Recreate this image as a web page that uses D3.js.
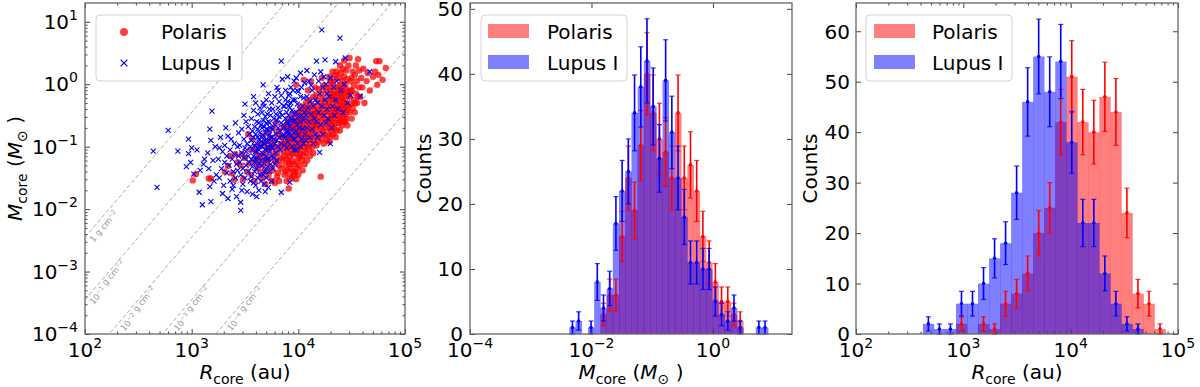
<!DOCTYPE html>
<html>
<head>
<meta charset="utf-8">
<script src="https://cdn.jsdelivr.net/npm/d3@7"></script>
<style>
body{margin:0;background:#fff;}
text{font-family:"DejaVu Sans",sans-serif;fill:#000;}
</style>
</head>
<body>
<script>
// cores: [log10 R/au, log10 M/Msun]
var polarisCores=[
[3.01,-1.54],[3.04,-1.44],[3.16,-1.51],[3.18,-1.51],[3.31,-1.40],
[3.36,-1.15],[3.41,-1.12],[3.34,-1.31],[3.38,-1.43],[3.43,-1.25],[3.40,-1.53],
[3.53,-0.80],[3.48,-1.52],[3.46,-1.30],[3.50,-1.18],[3.52,-1.40],[3.55,-1.05],[3.47,-1.12],[3.54,-1.27],
[3.56,-1.45],[3.58,-1.22],[3.60,-1.08],[3.62,-1.35],[3.64,-0.95],[3.59,-1.55],[3.61,-1.28],[3.63,-1.15],[3.57,-0.88],[3.65,-1.42],[3.60,-1.00],[3.62,-1.20],
[3.66,-1.50],[3.67,-1.30],[3.68,-1.10],[3.69,-0.92],[3.70,-1.40],[3.71,-1.22],[3.72,-0.78],[3.73,-1.05],[3.74,-1.33],[3.75,-1.55],
[3.66,-1.18],[3.68,-0.98],[3.70,-1.26],[3.72,-1.46],[3.74,-0.88],[3.69,-1.60],[3.71,-1.02],[3.73,-1.18],[3.75,-0.95],[3.67,-0.82],
[3.76,-1.38],[3.77,-1.12],[3.78,-0.90],[3.79,-1.25],[3.80,-1.48],[3.81,-1.02],[3.82,-0.75],[3.83,-1.18],[3.84,-1.35],[3.85,-0.95],
[3.76,-0.70],[3.78,-1.58],[3.80,-1.10],[3.82,-1.30],[3.84,-0.85],[3.86,-1.08],[3.77,-1.00],[3.79,-0.62],[3.81,-1.42],[3.83,-0.98],
[3.85,-1.22],[3.78,-1.20],[3.80,-0.80],[3.82,-1.55],[3.86,-0.68],
[3.87,-1.45],[3.87,-1.15],[3.87,-0.88],[3.88,-1.30],[3.88,-1.02],[3.88,-0.72],[3.89,-1.55],[3.89,-1.20],[3.89,-0.95],[3.90,-1.38],
[3.90,-1.10],[3.90,-0.80],[3.90,-0.55],[3.91,-1.67],[3.91,-1.25],[3.91,-1.00],[3.91,-0.70],[3.92,-1.48],[3.92,-1.15],[3.92,-0.90],
[3.93,-1.35],[3.93,-1.05],[3.93,-0.62],[3.94,-1.22],[3.94,-0.95],[3.94,-0.78],[3.95,-1.40],[3.95,-1.12],[3.95,-0.85],[3.95,-0.48],
[3.96,-1.28],[3.96,-1.02],[3.96,-0.68],[3.88,-1.40],[3.90,-0.98],[3.92,-1.28],[3.93,-0.85],[3.94,-1.50],[3.89,-0.65],[3.91,-0.85],
[3.95,-1.00],[3.96,-1.45],
[3.97,-1.40],[3.97,-1.10],[3.97,-0.82],[3.97,-0.55],[3.98,-1.25],[3.98,-0.95],[3.98,-0.70],[3.98,-0.01],[3.99,-1.35],[3.99,-1.05],
[3.99,-0.78],[3.99,-0.45],[4.00,-1.18],[4.00,-0.90],[4.00,-0.62],[4.00,-1.45],[4.01,-1.00],[4.01,-0.75],[4.01,-0.50],[4.01,-1.30],
[4.02,-1.12],[4.02,-0.85],[4.02,-0.58],[4.02,-0.35],[4.03,-1.22],[4.03,-0.95],[4.03,-0.68],[4.03,-0.42],[4.04,-1.08],[4.04,-0.80],
[4.04,-0.52],[4.04,-1.38],[4.05,0.07],[4.05,-0.90],[4.05,-0.65],[4.05,-1.15],[4.06,-1.00],[4.06,-0.72],[4.06,-0.45],[4.06,-1.28],
[3.98,-1.52],[3.99,-0.60],[4.00,-0.80],[4.01,-1.15],[4.02,-0.70],[4.03,-0.55],[4.04,-0.95],[4.05,-0.38],[4.06,-0.85],[3.97,-0.68],[4.00,-1.02],
[4.07,-1.10],[4.07,-0.82],[4.07,-0.55],[4.07,-0.30],[4.08,-1.00],[4.08,-0.72],[4.08,-0.45],[4.08,-1.22],[4.09,-0.90],[4.09,-0.62],
[4.09,-0.38],[4.09,-0.10],[4.10,-1.05],[4.10,-0.78],[4.10,-0.50],[4.10,-0.25],[4.11,-0.95],[4.11,-0.68],[4.11,-0.42],[4.11,-1.15],
[4.12,-0.85],[4.12,-0.58],[4.12,-0.32],[4.12,0.05],[4.13,-1.00],[4.13,-0.72],[4.13,-0.48],[4.14,-0.51],[4.14,-0.88],[4.14,-0.62],
[4.14,-0.20],[4.14,-1.10],[4.15,-0.78],[4.15,-0.52],[4.15,-0.35],[4.16,-0.95],[4.16,-0.66],[4.16,-0.42],[4.16,-0.05],[4.08,-0.60],
[4.12,-0.75],[4.15,-0.60],
[4.17,-0.98],[4.17,-0.70],[4.17,-0.45],[4.17,-0.18],[4.18,-0.85],[4.18,-0.58],[4.18,-0.25],[4.19,-0.92],[4.19,-0.66],[4.19,-0.40],
[4.19,-0.08],[4.20,-0.80],[4.20,-0.52],[4.20,-0.30],[4.21,-1.48],[4.21,-0.72],[4.21,-0.46],[4.21,-0.15],[4.22,-0.88],[4.22,-0.60],
[4.22,-0.35],[4.22,0.10],[4.23,-0.75],[4.23,-0.50],[4.23,-0.22],[4.24,-0.95],[4.24,-0.64],[4.24,-0.40],[4.24,-0.02],[4.25,-0.82],
[4.25,-0.55],[4.25,-0.28],[4.26,-0.70],[4.26,-0.45],[4.26,-0.12],[4.27,-0.90],[4.27,-0.60],[4.27,-0.35],[4.18,-0.45],[4.23,-0.05],
[4.28,-0.80],[4.28,-0.55],[4.28,-0.30],[4.28,-0.05],[4.29,-0.70],[4.29,-0.45],[4.29,-0.20],[4.29,0.12],[4.30,-0.85],[4.30,-0.60],
[4.30,-0.36],[4.30,-0.10],[4.31,-0.75],[4.31,-0.50],[4.31,-0.25],[4.31,0.02],[4.32,-0.66],[4.32,-0.40],[4.32,-0.15],[4.32,0.20],
[4.33,-0.80],[4.33,-0.55],[4.33,-0.30],[4.33,-0.02],[4.34,-0.70],[4.34,-0.45],[4.34,-0.18],[4.35,-0.62],[4.35,-0.38],[4.35,-0.10],
[4.35,0.15],[4.36,-0.74],[4.36,-0.50],[4.36,-0.26],[4.36,0.20],[4.37,-0.58],[4.37,-0.34],[4.37,-0.05],[4.29,-0.92],[4.31,-0.60],
[4.33,-0.22],[4.35,-0.85],[4.37,-0.15],[4.30,0.05],[4.34,0.08],[4.32,-0.50],[4.36,-0.42],
[4.38,-0.62],[4.38,-0.40],[4.38,-0.15],[4.38,0.10],[4.39,-0.74],[4.39,-0.50],[4.39,-0.28],[4.39,-0.02],[4.40,-0.58],[4.40,-0.35],
[4.40,-0.10],[4.40,0.18],[4.41,-0.66],[4.41,-0.45],[4.41,-0.22],[4.41,0.05],[4.42,-0.52],[4.42,-0.30],[4.42,-0.05],[4.42,0.25],
[4.43,-0.60],[4.43,-0.38],[4.43,-0.15],[4.43,0.12],[4.44,-0.48],[4.44,-0.25],[4.44,0.00],[4.45,-0.55],[4.45,-0.32],[4.45,-0.08],
[4.45,0.22],[4.46,-0.66],[4.46,-0.42],[4.46,-0.18],[4.46,0.08],[4.47,-0.35],[4.47,-0.12],[4.47,0.30],[4.40,-0.20],[4.42,-0.40],
[4.44,-0.60],[4.39,0.30],[4.43,0.38],[4.41,-0.12],
[4.48,0.42],[4.48,-0.45],[4.48,-0.20],[4.49,0.05],[4.49,-0.32],[4.50,0.10],[4.50,-0.55],[4.50,-0.10],[4.51,-0.38],[4.51,0.20],
[4.52,-0.25],[4.52,-0.02],[4.53,-0.45],[4.53,0.15],[4.54,-0.15],[4.54,0.30],[4.55,-0.30],[4.55,0.05],[4.56,0.40],[4.56,-0.20],
[4.57,-0.05],[4.57,0.22],[4.49,-0.10],[4.53,-0.30],
[4.58,-0.20],[4.59,0.10],[4.60,-0.05],[4.61,0.25],[4.62,-0.30],[4.64,0.05],[4.65,0.18],[4.67,-0.10],
[4.70,0.12],[4.73,0.37],[4.74,-0.01],[4.76,0.37],[4.72,0.20],[4.75,0.15],[4.82,0.26],[4.79,0.07]
];
var lupusCores=[
[2.64,-1.07],[2.675,-1.65],[2.78,-0.74],[2.87,-1.07],
[2.97,-0.88],[2.97,-1.11],[3.02,-1.44],[2.99,-1.25],[3.00,-1.02],[2.95,-1.32],
[3.07,-1.73],[3.10,-1.93],[3.08,-1.38],[3.12,-1.20],[3.05,-1.05],[3.11,-1.28],
[3.19,-0.43],[3.18,-1.88],[3.17,-1.64],[3.15,-1.10],[3.20,-1.22],[3.22,-1.00],[3.16,-1.35],[3.23,-1.45],[3.18,-0.90],[3.21,-1.55],[3.17,-0.72],
[3.34,-1.83],[3.34,-0.83],[3.25,-1.20],[3.26,-1.50],[3.27,-0.85],[3.28,-1.35],[3.29,-1.08],[3.30,-1.62],[3.31,-1.25],[3.32,-0.70],
[3.33,-1.42],[3.26,-1.02],[3.29,-1.75],[3.31,-0.98],[3.33,-1.15],
[3.35,-1.30],[3.36,-1.05],[3.36,-1.55],[3.37,-0.88],[3.38,-1.20],[3.38,-1.68],[3.39,-1.40],[3.40,-0.95],[3.40,-1.12],[3.41,-1.50],
[3.41,-0.62],[3.42,-1.28],[3.42,-1.80],[3.43,-1.00],[3.43,-1.38],[3.44,-0.78],[3.44,-1.15],[3.39,-1.62],
[3.46,-1.89],[3.46,-2.02],[3.50,-0.32],[3.45,-1.25],[3.45,-0.98],[3.46,-1.45],[3.47,-1.10],[3.47,-0.72],[3.48,-1.35],[3.48,-1.60],
[3.49,-0.88],[3.49,-1.18],[3.50,-1.50],[3.50,-1.02],[3.51,-1.30],[3.51,-0.60],[3.52,-1.72],[3.52,-0.95],[3.53,-1.15],[3.53,-1.40],
[3.54,-0.80],[3.54,-1.25],[3.55,-1.55],[3.55,-1.00],[3.47,-1.70],[3.49,-0.50],[3.51,-1.08],[3.53,-0.68],
[3.56,-1.20],[3.56,-0.90],[3.56,-1.48],[3.56,-0.55],[3.57,-1.76],[3.57,-1.05],[3.57,-0.75],[3.57,-1.32],[3.58,-1.58],[3.58,-1.15],
[3.58,-0.85],[3.58,-0.42],[3.59,-1.40],[3.59,-0.98],[3.59,-0.68],[3.59,-1.25],[3.60,-1.62],[3.60,-1.08],[3.60,-0.80],[3.60,-0.30],
[3.61,-1.35],[3.61,-0.95],[3.61,-0.60],[3.61,-1.18],[3.62,-1.50],[3.62,-1.02],[3.62,-0.72],[3.62,-0.48],[3.63,-1.28],[3.63,-0.88],
[3.63,-1.70],[3.63,-0.62],[3.64,-1.12],[3.64,-0.78],[3.64,-1.45],[3.64,-0.38],[3.65,-1.22],[3.65,-0.92],[3.65,-0.65],[3.65,-1.55],
[3.58,-0.20],[3.60,-1.20],[3.62,-0.85],[3.64,-1.00],[3.61,-1.80],[3.63,-1.05],
[3.66,-1.30],[3.66,-1.00],[3.66,-0.70],[3.66,-0.45],[3.67,-0.01],[3.67,-1.45],[3.67,-1.12],[3.67,-0.82],[3.67,-0.58],[3.68,-1.60],
[3.68,-1.22],[3.68,-0.95],[3.68,-0.68],[3.68,-0.35],[3.69,-1.38],[3.69,-1.05],[3.69,-0.78],[3.69,-0.52],[3.70,-1.50],[3.70,-1.15],
[3.70,-0.88],[3.70,-0.62],[3.70,-0.25],[3.71,-1.32],[3.71,-1.00],[3.71,-0.72],[3.71,-0.48],[3.72,-1.65],[3.72,-1.20],[3.72,-0.92],
[3.72,-0.60],[3.72,-0.15],[3.73,-1.40],[3.73,-1.08],[3.73,-0.80],[3.73,-0.40],[3.74,-1.28],[3.74,-0.98],[3.74,-0.70],[3.74,-0.50],
[3.75,-1.55],[3.75,-1.15],[3.75,-0.85],[3.75,-0.30],[3.69,-0.90],[3.71,-1.20],[3.73,-0.62],[3.66,-0.85],[3.68,-1.40],[3.70,-0.72],
[3.72,-1.02],[3.74,-0.85],[3.67,-0.30],[3.75,-1.02],[3.69,-1.72],
[3.76,-1.35],[3.76,-1.02],[3.76,-0.72],[3.76,-0.40],[3.77,-1.18],[3.77,-0.88],[3.77,-0.55],[3.78,-1.28],[3.78,-0.95],
[3.78,-0.65],[3.78,-0.20],[3.79,-1.10],[3.79,-0.80],[3.79,-0.48],[3.80,-1.22],[3.80,-0.90],[3.80,-0.58],
[3.80,-0.05],[3.81,-1.00],[3.81,-0.70],[3.81,-0.38],[3.82,-0.85],[3.82,-0.52],[3.82,-0.28],
[3.83,-1.05],[3.83,-0.75],[3.83,-0.45],[3.84,0.37],[3.84,-1.73],[3.84,-0.95],[3.84,-0.62],[3.84,-0.18],[3.85,-0.82],
[3.85,-0.50],[3.85,0.08],[3.86,-0.70],[3.86,-0.35],[3.81,-0.10],
[3.87,-0.98],[3.87,-0.68],[3.87,-0.35],[3.88,-0.85],[3.88,-0.55],[3.88,-0.10],[3.89,-1.02],
[3.89,-0.75],[3.89,-0.45],[3.90,-0.92],[3.90,-0.62],[3.90,-0.28],[3.90,0.12],[3.91,-0.80],[3.91,-0.50],
[3.91,-0.18],[3.92,-1.57],[3.92,-0.68],[3.92,-0.38],[3.93,-0.82],[3.93,-0.55],[3.93,-0.05],
[3.94,-1.00],[3.94,-0.72],[3.94,-0.42],[3.95,-0.88],[3.95,-0.60],[3.95,-0.25],[3.96,-1.05],
[3.96,-0.78],[3.96,-0.48],[3.96,0.05],[3.88,-0.25],[3.93,-0.30],[3.95,-0.10],[3.89,-0.60],[3.91,-0.35],[3.94,-0.58],
[3.87,-0.82],[3.92,-0.15],[3.90,-0.75],
[3.97,-0.88],[3.97,-0.58],[3.97,-0.25],[3.98,-1.05],[3.98,-0.75],[3.98,-0.45],[3.98,0.10],[3.99,-0.95],
[3.99,-0.65],[3.99,-0.32],[4.00,-0.82],[4.00,-0.52],[4.00,-0.12],[4.01,-0.70],[4.01,-0.40],[4.02,-1.00],
[4.02,-0.60],[4.02,-0.20],[4.02,0.18],[4.03,-0.88],[4.03,-0.50],[4.03,-0.05],[4.04,-0.72],[4.04,-0.35],[4.05,-0.95],
[4.05,-0.58],[4.05,-0.22],[4.06,-0.80],[4.06,-0.45],[4.06,0.02],[3.99,-0.10],
[4.07,-0.90],[4.07,-0.50],[4.08,-0.20],[4.08,-0.70],[4.09,-0.38],[4.10,0.05],[4.10,-0.60],[4.11,-0.85],[4.11,-0.28],
[4.12,-0.48],[4.13,-0.10],[4.13,-0.72],[4.14,-0.35],[4.14,-0.95],[4.15,0.15],[4.15,-0.55],[4.16,-0.25],[4.16,-0.80],
[4.08,0.22],[4.12,-0.02],
[4.22,0.87],[4.17,0.37],[4.25,0.39],[4.20,-1.09],[4.17,-0.60],[4.18,-0.30],[4.18,-0.85],[4.19,0.05],[4.19,-0.45],[4.20,-0.15],
[4.21,-0.65],[4.21,0.20],[4.22,-0.35],[4.23,-0.80],[4.23,-0.05],[4.24,-0.50],[4.24,0.12],[4.25,-0.25],[4.26,-0.62],[4.26,0.00],
[4.27,-0.40],[4.27,-0.15],
[4.35,0.36],[4.28,-0.55],[4.29,-0.20],[4.30,0.10],[4.31,-0.70],[4.32,-0.35],[4.33,-0.05],[4.34,-0.50],[4.35,-0.25],[4.36,0.05],
[4.37,-0.40],[4.30,-0.95],
[4.39,0.74],[4.44,0.42],[4.40,-0.10],[4.42,-0.45],[4.43,0.00],[4.46,-0.30],
[4.49,-0.18],[4.58,-0.19],[4.67,0.20]
];

// surface density lines (g cm^-2), exponents of 10
var sigmaExponents=[0,-1,-2,-3,-4];

// histogram bins in log10, counts read per bin
var massBinFirstEdge=-2.365, massBinWidth=0.1023;
var polarisMassCounts=[0,0,0,0,0,3,6,6,15,24,19,29,40,34,30,28,24,34,24,26,22,15,11,8,5,5,3,2,0,0,0,0];
var lupusMassCounts=[1,2,0,1,8,4,7,17,22,25,34,38,42,35,27,39,31,24,18,11,11,10,10,5,3,2,4,1,0,0,1,1];
var radiusBinFirstEdge=2.623, radiusBinWidth=0.10276;
var polarisRadiusCounts=[0,0,0,2,0,2,1,6,8,12,20,25,42,51,42,40,47,44,24,8,6,1];
var lupusRadiusCounts=[2,1,1,6,6,10,15,18,28,46,55,48,54,38,22,22,12,6,2,1,0,0];

var radiusTicks=[1e2,1e3,1e4,1e5];
var scatterMassTicks=[1e-4,1e-3,1e-2,1e-1,1e0,1e1];
var histMassTicks=[1e-4,1e-2,1e0];
var massCountTicks=[0,10,20,30,40,50];
var radiusCountTicks=[0,10,20,30,40,50,60];

var AU=1.496e13, MSUN=1.989e33;
var PLOT_TOP=3, PLOT_BOTTOM=334;

var svg=d3.select("body").append("svg").attr("width",1200).attr("height",387);
var defs=svg.append("defs");

function minorLog(dom)
{
	var out=[];
	for(var e=Math.floor(Math.log10(dom[0]));e<=Math.ceil(Math.log10(dom[1]));e++)
		for(var k=2;k<10;k++)
		{
			var v=k*Math.pow(10,e);
			if(v>dom[0]*1.0001 && v<dom[1]*0.9999) out.push(v);
		}
	return out;
}

function tickSide(g,scale,vals,side,len,x0,y0,x1,y1)
{
	var ax;
	if(side=="bottom") ax=d3.axisBottom(scale);
	else if(side=="top") ax=d3.axisTop(scale);
	else if(side=="left") ax=d3.axisLeft(scale);
	else ax=d3.axisRight(scale);
	ax.tickValues(vals).tickSize(-len).tickFormat("");
	var tr= side=="bottom"?"translate(0,"+y1+")": side=="top"?"translate(0,"+y0+")":
		side=="left"?"translate("+x0+",0)":"translate("+x1+",0)";
	var t=g.append("g").attr("transform",tr).call(ax);
	t.select(".domain").remove();
	t.selectAll("line").attr("stroke","#444").attr("stroke-width",1);
}

function supStr(e){return (e<0?"\u2212":"")+Math.abs(e);}

function powLabel(g,x,y,e,anchor)
{
	var t=g.append("text").attr("x",x).attr("y",y).attr("text-anchor",anchor).attr("font-size",20);
	t.append("tspan").text("10");
	t.append("tspan").attr("font-size",14).attr("dy",-9).text(supStr(e));
	return t;
}

function frame(g,x,y,xMajor,xMinor,yMajor,yMinor)
{
	var x0=x.range()[0],x1=x.range()[1],y0=PLOT_TOP,y1=PLOT_BOTTOM;
	["bottom","top"].forEach(function(s){
		tickSide(g,x,xMajor,s,5,x0,y0,x1,y1);
		if(xMinor.length) tickSide(g,x,xMinor,s,2.5,x0,y0,x1,y1);
	});
	["left","right"].forEach(function(s){
		tickSide(g,y,yMajor,s,5,x0,y0,x1,y1);
		if(yMinor.length) tickSide(g,y,yMinor,s,2.5,x0,y0,x1,y1);
	});
	g.append("rect").attr("x",x0).attr("y",y0).attr("width",x1-x0).attr("height",y1-y0)
		.attr("fill","none").attr("stroke","#666").attr("stroke-width",1.3);
}

function massTitle(t)
{
	t.append("tspan").attr("font-style","italic").text("M");
	t.append("tspan").attr("font-size",14).attr("dy",5).text("core");
	t.append("tspan").attr("dy",-5).text(" (");
	t.append("tspan").attr("font-style","italic").text("M");
	t.append("tspan").attr("font-size",14).attr("dy",5).text("\u2299");
	t.append("tspan").attr("dy",-5).text(" )");
}
function radiusTitle(t)
{
	t.append("tspan").attr("font-style","italic").text("R");
	t.append("tspan").attr("font-size",14).attr("dy",5).text("core");
	t.append("tspan").attr("dy",-5).text(" (au)");
}

function legendBox(g,x,y)
{
	g.append("rect").attr("x",x).attr("y",y).attr("width",146).attr("height",66).attr("rx",4)
		.attr("fill","white").attr("fill-opacity",0.8).attr("stroke","#d3d3d3");
}

function xMark(s)
{
	return "M"+(-s)+","+(-s)+"L"+s+","+s+"M"+(-s)+","+s+"L"+s+","+(-s);
}

//----- panel 1: scatter
var g1=svg.append("g");
var x1=d3.scaleLog().domain([1e2,1e5]).range([85,405]);
var y1=d3.scaleLog().domain([1e-4,20]).range([PLOT_BOTTOM,PLOT_TOP]);
defs.append("clipPath").attr("id","clip1").append("rect")
	.attr("x",85).attr("y",PLOT_TOP).attr("width",320).attr("height",PLOT_BOTTOM-PLOT_TOP);

function sigmaMass(sig,r){return sig*Math.PI*Math.pow(r*AU,2)/MSUN;}
var lines=g1.append("g").attr("clip-path","url(#clip1)");
sigmaExponents.forEach(function(e){
	var sig=Math.pow(10,e);
	var pts=[1e2,1e5].map(function(r){return [x1(r),y1(sigmaMass(sig,r))];});
	lines.append("path").attr("d",d3.line()(pts)).attr("fill","none")
		.attr("stroke","#aaa").attr("stroke-width",1).attr("stroke-dasharray","4,2.5");
	var ang=Math.atan2(pts[1][1]-pts[0][1],pts[1][0]-pts[0][0])*180/Math.PI;
	// label where the line leaves the bottom-left corner
	var mB=y1.invert(PLOT_BOTTOM-9);
	var rB=Math.sqrt(mB*MSUN/(sig*Math.PI))/AU;
	var xa=Math.max(86,x1(rB));
	var ya=y1(sigmaMass(sig,x1.invert(xa)));
	var t=lines.append("text").attr("x",xa).attr("y",ya).attr("dy",10).attr("font-size",8.5)
		.attr("transform","rotate("+ang+","+xa+","+ya+")").style("fill","#999");
	if(e==0) t.append("tspan").text("1");
	else { t.append("tspan").text("10"); t.append("tspan").attr("font-size",6).attr("dy",-3).text(supStr(e)); t.append("tspan").attr("dy",3).text(""); }
	t.append("tspan").text(" g cm");
	t.append("tspan").attr("font-size",6).attr("dy",-3).text("\u22122");
});

var pts1=g1.append("g").attr("clip-path","url(#clip1)");
pts1.selectAll("circle").data(polarisCores).enter().append("circle")
	.attr("cx",function(d){return x1(Math.pow(10,d[0]));})
	.attr("cy",function(d){return y1(Math.pow(10,d[1]));})
	.attr("r",3.2).attr("fill","red").attr("fill-opacity",0.75);
pts1.selectAll("path.lx").data(lupusCores).enter().append("path").attr("class","lx")
	.attr("d",xMark(2.5))
	.attr("transform",function(d){return "translate("+x1(Math.pow(10,d[0]))+","+y1(Math.pow(10,d[1]))+")";})
	.attr("stroke","blue").attr("stroke-width",1.1).attr("fill","none");

frame(g1,x1,y1,radiusTicks,minorLog(x1.domain()),scatterMassTicks,minorLog(y1.domain()));
radiusTicks.forEach(function(v){powLabel(g1,x1(v),357,Math.round(Math.log10(v)),"middle");});
scatterMassTicks.forEach(function(v){powLabel(g1,78,y1(v)+7,Math.round(Math.log10(v)),"end");});
radiusTitle(g1.append("text").attr("x",245).attr("y",379).attr("text-anchor","middle").attr("font-size",20));
massTitle(g1.append("text").attr("transform","translate(22,168.5) rotate(-90)").attr("text-anchor","middle").attr("font-size",20));

legendBox(g1,96,15);
g1.append("circle").attr("cx",124).attr("cy",32).attr("r",4).attr("fill","red").attr("fill-opacity",0.75);
g1.append("path").attr("d",xMark(3.4)).attr("transform","translate(124,63)")
	.attr("stroke","blue").attr("stroke-width",1.2).attr("fill","none");
g1.append("text").attr("x",161).attr("y",39).attr("font-size",20).text("Polaris");
g1.append("text").attr("x",161).attr("y",70).attr("font-size",20).text("Lupus I");

//----- histograms
function histPanel(g,x,y,firstEdge,width,countsA,countsB)
{
	var layers=[[countsA,"red"],[countsB,"blue"]];
	layers.forEach(function(l){
		g.append("g").selectAll("rect").data(l[0]).enter().append("rect")
			.attr("x",function(d,i){return x(Math.pow(10,firstEdge+i*width));})
			.attr("width",function(d,i){return x(Math.pow(10,firstEdge+(i+1)*width))-x(Math.pow(10,firstEdge+i*width))+0.3;})
			.attr("y",function(d){return y(d);})
			.attr("height",function(d){return y(0)-y(d);})
			.attr("fill",l[1]).attr("fill-opacity",0.5);
	});
	layers.forEach(function(l){
		var eb=g.append("g");
		l[0].forEach(function(c,i){
			if(c<=0) return;
			var cx=x(Math.pow(10,firstEdge+(i+0.5)*width));
			var e=Math.sqrt(c);
			var ya=y(c+e), yb=y(Math.max(c-e,0));
			eb.append("line").attr("x1",cx).attr("x2",cx).attr("y1",ya).attr("y2",yb)
				.attr("stroke",l[1]).attr("stroke-width",1.6);
			[ya,yb].forEach(function(yy){
				eb.append("line").attr("x1",cx-2.5).attr("x2",cx+2.5).attr("y1",yy).attr("y2",yy)
					.attr("stroke",l[1]).attr("stroke-width",1.2).attr("stroke-opacity",0.8);
			});
			eb.append("circle").attr("cx",cx).attr("cy",y(c)).attr("r",1.8).attr("fill",l[1]);
		});
	});
}

function histLegend(g,bx,px,tx)
{
	legendBox(g,bx,15);
	g.append("rect").attr("x",px).attr("y",24).attr("width",41).attr("height",14).attr("fill","red").attr("fill-opacity",0.5);
	g.append("rect").attr("x",px).attr("y",55).attr("width",41).attr("height",14).attr("fill","blue").attr("fill-opacity",0.5);
	g.append("text").attr("x",tx).attr("y",39).attr("font-size",20).text("Polaris");
	g.append("text").attr("x",tx).attr("y",70).attr("font-size",20).text("Lupus I");
}

//----- panel 2: mass histogram
var g2=svg.append("g");
var x2=d3.scaleLog().domain([1e-4,20]).range([470,792]);
var y2=d3.scaleLinear().domain([0,50.9]).range([PLOT_BOTTOM,PLOT_TOP]);
histPanel(g2,x2,y2,massBinFirstEdge,massBinWidth,polarisMassCounts,lupusMassCounts);
frame(g2,x2,y2,histMassTicks,[],massCountTicks,[]);
histMassTicks.forEach(function(v){powLabel(g2,x2(v),357,Math.round(Math.log10(v)),"middle");});
massCountTicks.forEach(function(v){g2.append("text").attr("x",463).attr("y",y2(v)+7.3).attr("text-anchor","end").attr("font-size",20).text(v);});
massTitle(g2.append("text").attr("x",631).attr("y",379).attr("text-anchor","middle").attr("font-size",20));
g2.append("text").attr("transform","translate(431,168.5) rotate(-90)").attr("text-anchor","middle").attr("font-size",20).text("Counts");
histLegend(g2,481,488,547);

//----- panel 3: radius histogram
var g3=svg.append("g");
var x3=d3.scaleLog().domain([1e2,1e5]).range([856,1178]);
var y3=d3.scaleLinear().domain([0,65.6]).range([PLOT_BOTTOM,PLOT_TOP]);
histPanel(g3,x3,y3,radiusBinFirstEdge,radiusBinWidth,polarisRadiusCounts,lupusRadiusCounts);
frame(g3,x3,y3,radiusTicks,minorLog(x3.domain()),radiusCountTicks,[]);
radiusTicks.forEach(function(v){powLabel(g3,x3(v),357,Math.round(Math.log10(v)),"middle");});
radiusCountTicks.forEach(function(v){g3.append("text").attr("x",850).attr("y",y3(v)+7.3).attr("text-anchor","end").attr("font-size",20).text(v);});
radiusTitle(g3.append("text").attr("x",1017).attr("y",379).attr("text-anchor","middle").attr("font-size",20));
g3.append("text").attr("transform","translate(817,168.5) rotate(-90)").attr("text-anchor","middle").attr("font-size",20).text("Counts");
histLegend(g3,866,874,932);
</script>
</body>
</html>
